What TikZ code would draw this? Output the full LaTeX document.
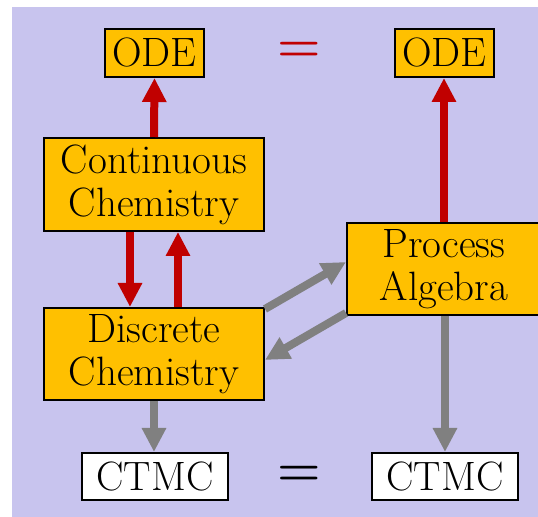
\documentclass[tikz,border=0pt]{standalone}
\usepackage{tikz}
\usetikzlibrary{arrows.meta}
\definecolor{slideLilac}{RGB}{200,196,238}
\definecolor{boxGold}{RGB}{255,192,0}
\definecolor{arrRed}{RGB}{192,0,0}
\definecolor{arrGray}{RGB}{128,128,128}
\tikzset{
  modelbox/.style={draw=black,line width=1pt,fill=boxGold,inner sep=0pt,align=center,
    font=\fontsize{20.5}{21.5}\selectfont},
  ctmcbox/.style={modelbox,fill=white},
  redarr/.style={draw=arrRed,line width=4pt,-{Triangle[width=11.5pt,length=12pt]}},
  grayarr/.style={draw=arrGray,line width=4pt,-{Triangle[width=11.5pt,length=12pt]}},
  eqsign/.style={font=\fontsize{30}{30}\selectfont\boldmath}
}
\begin{document}
\begin{tikzpicture}[x=0.5pt,y=-0.5pt]
\useasboundingbox (0,0) rectangle (538,517);
\fill[slideLilac] (12,7) rectangle (538,517);
% top row
\node[modelbox,minimum width=49.5pt,minimum height=24pt] (odeL) at (154.5,53) {ODE};
\node[modelbox,minimum width=49.5pt,minimum height=24pt] (odeR) at (444.5,53) {ODE};
\node[eqsign,text=arrRed] (eqTop) at (299,52) {$=$};
% middle
\node[modelbox,minimum width=110pt,minimum height=46.5pt] (cont) at (154,184.5) {Continuous\\Chemistry};
\node[modelbox,minimum width=110pt,minimum height=46pt] (disc) at (154,354) {Discrete\\Chemistry};
\node[modelbox,minimum width=97pt,minimum height=46pt] (proc) at (444,269) {Process\\Algebra};
% bottom row
\node[ctmcbox,minimum width=73pt,minimum height=23.5pt] (ctmcL) at (155,476.5) {CTMC};
\node[ctmcbox,minimum width=73pt,minimum height=23.5pt] (ctmcR) at (445,476.5) {CTMC};
\node[eqsign] (eqBot) at (299,476) {$=$};
% arrows
\draw[redarr] (cont.north) -- (odeL.south);
\draw[redarr] (proc.north) -- (odeR.south -| proc.north);
\draw[redarr] ([xshift=-12pt]cont.south) -- ([xshift=-12pt]disc.north);
\draw[redarr] ([xshift=12pt]disc.north) -- ([xshift=12pt]cont.south);
\draw[grayarr] (disc.south) -- (ctmcL.north -| disc.south);
\draw[grayarr] (proc.south -| ctmcR.north) -- (ctmcR.north);
\draw[grayarr] ([yshift=-1pt]disc.north east) -- ([yshift=3.5pt]proc.west);
\draw[grayarr] ([yshift=1.5pt]proc.south west) -- ([yshift=-3pt]disc.east);
\end{tikzpicture}
\end{document}
